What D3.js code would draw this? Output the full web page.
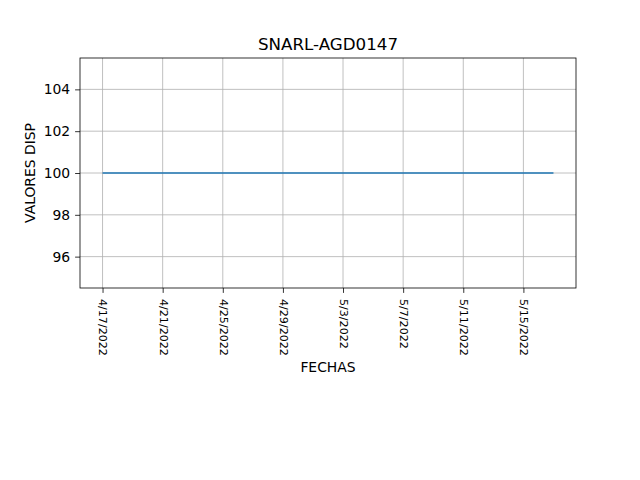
<!DOCTYPE html>
<html>
<head>
<meta charset="utf-8">
<title>SNARL-AGD0147</title>
<style>
  body { margin: 0; background: #fff; }
  svg text { font-family: "DejaVu Sans", sans-serif; }
  .grid line { stroke: #b0b0b0; stroke-width: 0.8; }
</style>
</head>
<body>
<svg id="chart" width="640" height="480"></svg>
<script src="https://cdnjs.cloudflare.com/ajax/libs/d3/7.8.5/d3.min.js"></script>
<script>
var title = 'SNARL-AGD0147';
var xLabel = 'FECHAS';
var yLabel = 'VALORES DISP';

// one reading per day, 4/17/2022 .. 5/17/2022
var dates = ['2022-04-17','2022-04-18','2022-04-19','2022-04-20','2022-04-21','2022-04-22',
  '2022-04-23','2022-04-24','2022-04-25','2022-04-26','2022-04-27','2022-04-28','2022-04-29',
  '2022-04-30','2022-05-01','2022-05-02','2022-05-03','2022-05-04','2022-05-05','2022-05-06',
  '2022-05-07','2022-05-08','2022-05-09','2022-05-10','2022-05-11','2022-05-12','2022-05-13',
  '2022-05-14','2022-05-15','2022-05-16','2022-05-17'];
var values = [100,100,100,100,100,100,100,100,100,100,100,100,100,100,100,100,
  100,100,100,100,100,100,100,100,100,100,100,100,100,100,100];
var xTicks = ['2022-04-17','2022-04-21','2022-04-25','2022-04-29','2022-05-03','2022-05-07','2022-05-11','2022-05-15'];
var yTicks = [96, 98, 100, 102, 104];

var parse = d3.timeParse('%Y-%m-%d');
var fmt = function(d) { return (d.getMonth()+1) + '/' + d.getDate() + '/' + d.getFullYear(); };
var data = dates.map(function(d, i) { return {date: parse(d), value: values[i]}; });

var pLeft = 80, pRight = 576, pTop = 58, pBottom = 288;
var svg = d3.select('#chart');

// matplotlib-like 5% margins
var ext = d3.extent(data, function(d) { return d.date; });
var span = ext[1] - ext[0];
var x = d3.scaleTime()
  .domain([new Date(+ext[0] - span*0.05), new Date(+ext[1] + span*0.05)])
  .range([pLeft, pRight]);
var y = d3.scaleLinear().domain([94.5, 105.5]).range([pBottom, pTop]);

var tickDates = xTicks.map(parse);

// grid
var grid = svg.append('g').attr('class', 'grid');
grid.selectAll('.vx').data(tickDates).enter().append('line')
  .attr('x1', function(d) { return x(d); }).attr('x2', function(d) { return x(d); })
  .attr('y1', pTop).attr('y2', pBottom);
grid.selectAll('.hy').data(yTicks).enter().append('line')
  .attr('x1', pLeft).attr('x2', pRight)
  .attr('y1', function(d) { return y(d); }).attr('y2', function(d) { return y(d); });

// line
var line = d3.line().x(function(d) { return x(d.date); }).y(function(d) { return y(d.value); });
svg.append('path').datum(data)
  .attr('d', line)
  .attr('fill', 'none')
  .attr('stroke', '#1f77b4')
  .attr('stroke-width', 1.5);

// axes
var xAxis = svg.append('g').attr('transform', 'translate(0,' + pBottom + ')')
  .call(d3.axisBottom(x).tickValues(tickDates).tickFormat(fmt).tickSizeInner(4.9).tickSizeOuter(0));
xAxis.select('.domain').remove();
xAxis.selectAll('text')
  .attr('font-size', 11.1)
  .attr('fill', '#000')
  .attr('transform', 'rotate(90)')
  .attr('text-anchor', 'start')
  .attr('x', 11)
  .attr('y', 0)
  .attr('dy', '0.32em');
xAxis.selectAll('line').attr('stroke', '#000').attr('stroke-width', 0.8);

var yAxis = svg.append('g').attr('transform', 'translate(' + pLeft + ',0)')
  .call(d3.axisLeft(y).tickValues(yTicks).tickSizeInner(4.9).tickSizeOuter(0).tickPadding(4.9));
yAxis.select('.domain').remove();
yAxis.selectAll('text').attr('font-size', 13.9).attr('fill', '#000');
yAxis.selectAll('line').attr('stroke', '#000').attr('stroke-width', 0.8);

// frame
svg.append('rect')
  .attr('x', pLeft).attr('y', pTop)
  .attr('width', pRight - pLeft).attr('height', pBottom - pTop)
  .attr('fill', 'none').attr('stroke', '#000').attr('stroke-width', 0.8);

// labels
svg.append('text').attr('x', (pLeft + pRight) / 2).attr('y', 50)
  .attr('text-anchor', 'middle').attr('font-size', 16.7).text(title);
svg.append('text').attr('x', (pLeft + pRight) / 2).attr('y', 372)
  .attr('text-anchor', 'middle').attr('font-size', 13.9).text(xLabel);
svg.append('text')
  .attr('transform', 'translate(35,' + ((pTop + pBottom) / 2) + ') rotate(-90)')
  .attr('text-anchor', 'middle').attr('font-size', 13.9).text(yLabel);
</script>
</body>
</html>
